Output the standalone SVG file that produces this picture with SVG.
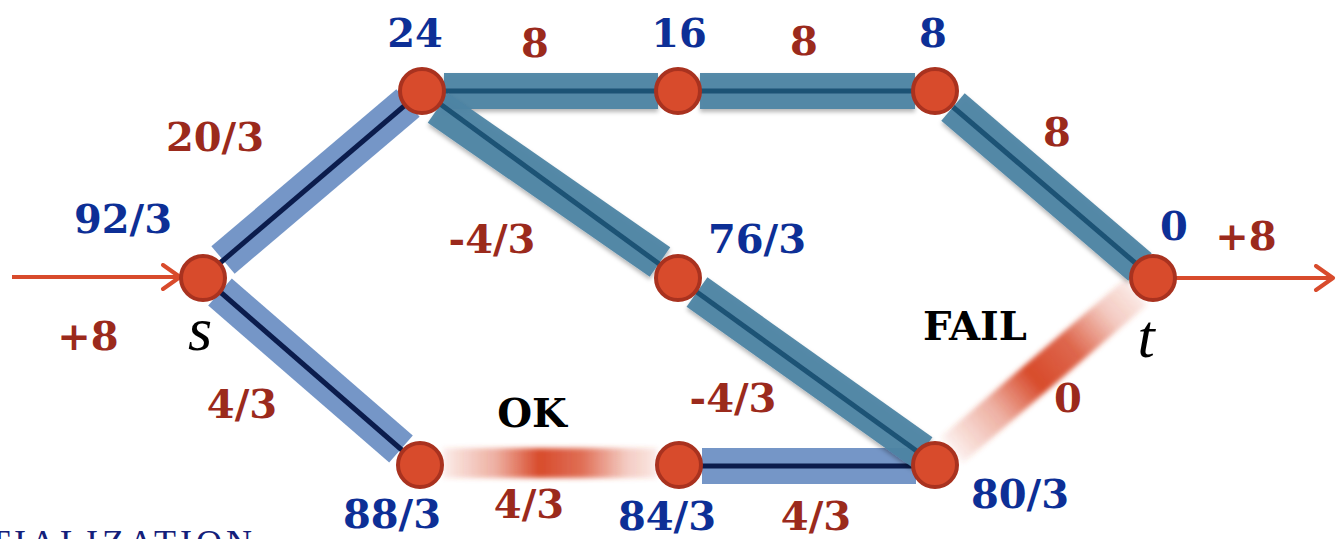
<svg xmlns="http://www.w3.org/2000/svg" width="1336" height="539" viewBox="0 0 1336 539">
<defs>
<style>
.band{stroke-width:36;stroke-linecap:butt;fill:none}
.lb{stroke:#6e90c4;opacity:0.95}
.tb{stroke:#4d84a4;opacity:0.95}
.lbl{stroke:#0b1c4c;stroke-width:5;fill:none}
.tbl{stroke:#1f5274;stroke-width:5;fill:none}
.node{fill:#d84b2c;stroke:#a9321f;stroke-width:4}
.num{font-family:"DejaVu Serif",serif;font-weight:bold;font-size:40px;text-anchor:middle}
.blue{fill:#0d2f96}
.red{fill:#9b2a1c}
.blk{fill:#000}
.math{font-family:"Liberation Serif",serif;font-style:italic;font-size:62px;text-anchor:middle;fill:#000}
.arr{stroke:#d84b2c;stroke-width:4;fill:none}
</style>
<filter id="sh" filterUnits="userSpaceOnUse" x="0" y="0" width="1336" height="539">
<feDropShadow dx="0" dy="3" stdDeviation="2" flood-color="#000" flood-opacity="0.3"/>
</filter>
<filter id="soft" filterUnits="userSpaceOnUse" x="0" y="0" width="1336" height="539">
<feGaussianBlur stdDeviation="2.5"/>
</filter>
<linearGradient id="gEF" gradientUnits="userSpaceOnUse" x1="443" y1="0" x2="657" y2="0">
<stop offset="0" stop-color="#d84b2c" stop-opacity="0.1"/>
<stop offset="0.25" stop-color="#d84b2c" stop-opacity="0.45"/>
<stop offset="0.45" stop-color="#d84b2c" stop-opacity="1"/>
<stop offset="0.65" stop-color="#d84b2c" stop-opacity="0.8"/>
<stop offset="0.85" stop-color="#d84b2c" stop-opacity="0.3"/>
<stop offset="1" stop-color="#d84b2c" stop-opacity="0.12"/>
</linearGradient>
<linearGradient id="gGt" gradientUnits="userSpaceOnUse" x1="952" y1="450" x2="1136" y2="292">
<stop offset="0" stop-color="#d84b2c" stop-opacity="0.08"/>
<stop offset="0.25" stop-color="#d84b2c" stop-opacity="0.45"/>
<stop offset="0.45" stop-color="#d84b2c" stop-opacity="1"/>
<stop offset="0.65" stop-color="#d84b2c" stop-opacity="0.85"/>
<stop offset="0.85" stop-color="#d84b2c" stop-opacity="0.3"/>
<stop offset="1" stop-color="#d84b2c" stop-opacity="0.12"/>
</linearGradient>
<marker id="chev" markerUnits="userSpaceOnUse" markerWidth="24" markerHeight="30" refX="20" refY="14" orient="auto">
<path d="M3,2 L20,14 L3,26" fill="none" stroke="#d84b2c" stroke-width="4" stroke-linecap="round" stroke-linejoin="round"/>
</marker>
</defs>

<g id="connectors">
<line class="arr" x1="12" y1="277" x2="180" y2="277" marker-end="url(#chev)"/>
<line class="arr" x1="1176" y1="278" x2="1333" y2="278" marker-end="url(#chev)"/>
<g id="e-sA"><line class="band lb" x1="223" y1="260" x2="408" y2="103"/><line class="lbl" x1="220" y1="263" x2="410" y2="101"/></g>
<g id="e-sE"><line class="band lb" x1="220" y1="292" x2="401" y2="449"/><line class="lbl" x1="218" y1="290" x2="403" y2="451"/></g>
<g id="e-FG"><line class="band lb" x1="702" y1="466" x2="916" y2="466"/><line class="lbl" x1="702" y1="466" x2="916" y2="466"/></g>
<g id="e-AB" filter="url(#sh)"><line class="band tb" x1="444" y1="91" x2="658" y2="91"/><line class="tbl" x1="444" y1="91" x2="658" y2="91"/></g>
<g id="e-BC" filter="url(#sh)"><line class="band tb" x1="700" y1="91" x2="915" y2="91"/><line class="tbl" x1="700" y1="91" x2="915" y2="91"/></g>
<g id="e-Ct" filter="url(#sh)"><line class="band tb" x1="953" y1="107" x2="1140" y2="267"/><line class="tbl" x1="953" y1="107" x2="1140" y2="267"/></g>
<g id="e-AD" filter="url(#sh)"><line class="band tb" x1="438" y1="108" x2="660" y2="262"/><line class="tbl" x1="432" y1="98" x2="662" y2="266"/></g>
<g id="e-DG" filter="url(#sh)"><line class="band tb" x1="697" y1="292" x2="922" y2="452"/><line class="tbl" x1="694" y1="290" x2="925" y2="457"/></g>
<g id="e-EF"><line x1="443" y1="463" x2="657" y2="463" stroke="url(#gEF)" stroke-width="30" filter="url(#soft)"/></g>
<g id="e-Gt"><line x1="952" y1="450" x2="1136" y2="292" stroke="url(#gGt)" stroke-width="34" filter="url(#soft)"/></g>
</g>

<g id="node-s"><circle class="node" cx="203" cy="278" r="22"/><text class="math" x="200" y="350">s</text></g>
<g id="node-A"><circle class="node" cx="422" cy="91" r="22"/></g>
<g id="node-B"><circle class="node" cx="678" cy="91" r="22"/></g>
<g id="node-C"><circle class="node" cx="935" cy="91" r="22"/></g>
<g id="node-D"><circle class="node" cx="678" cy="278" r="22"/></g>
<g id="node-t"><circle class="node" cx="1153" cy="278" r="22"/><text class="math" x="1146" y="357">t</text></g>
<g id="node-E"><circle class="node" cx="420" cy="465" r="22"/></g>
<g id="node-F"><circle class="node" cx="679" cy="465" r="22"/></g>
<g id="node-G"><circle class="node" cx="935" cy="465" r="22"/></g>

<g id="labels">
<text class="num blue" x="415" y="47">24</text>
<text class="num blue" x="679" y="47">16</text>
<text class="num blue" x="933" y="47">8</text>
<text class="num blue" x="123" y="233">92/3</text>
<text class="num blue" x="757" y="253">76/3</text>
<text class="num blue" x="1174" y="240">0</text>
<text class="num blue" x="392" y="528">88/3</text>
<text class="num blue" x="667" y="530">84/3</text>
<text class="num blue" x="1020" y="508">80/3</text>

<text class="num red" x="535" y="57">8</text>
<text class="num red" x="804" y="55">8</text>
<text class="num red" x="1057" y="146">8</text>
<text class="num red" x="215" y="151">20/3</text>
<text class="num red" x="492" y="253">-4/3</text>
<text class="num red" x="1246" y="250">+8</text>
<text class="num red" x="88" y="350">+8</text>
<text class="num red" x="1068" y="412">0</text>
<text class="num red" x="733" y="412">-4/3</text>
<text class="num red" x="242" y="418">4/3</text>
<text class="num red" x="529" y="518">4/3</text>
<text class="num red" x="816" y="530">4/3</text>

<text class="num blk" x="975" y="340">FAIL</text>
<text class="num blk" x="532" y="427">OK</text>

<text x="-12" y="555" font-family="Liberation Serif,serif" font-size="36" fill="#14207a" letter-spacing="4">TIALIZATION</text>
</g>
</svg>
